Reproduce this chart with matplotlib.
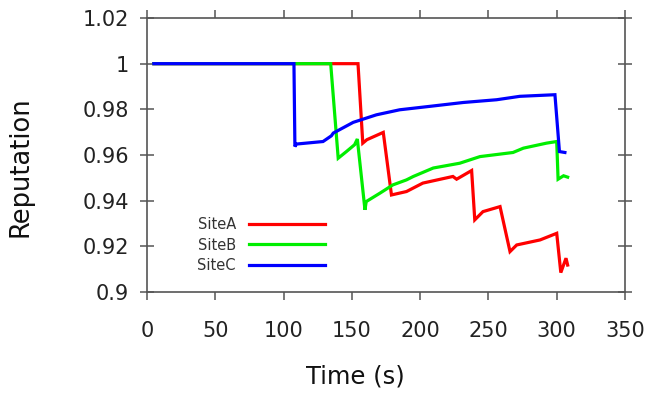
import matplotlib
matplotlib.use("Agg")
import matplotlib.pyplot as plt
from matplotlib.ticker import FuncFormatter

plt.rcParams['font.family'] = ['DejaVu Sans']

# Data
siteA_x = [5, 154.5, 158, 161, 173, 179, 190, 202, 224, 226.7, 237.7, 240, 246, 258.5,
           265.8, 270.7, 287.8, 300, 303, 306.8, 308]
siteA_y = [1, 1, 0.9652, 0.9667, 0.9699, 0.9425, 0.9440, 0.9477, 0.9506, 0.9494, 0.9532,
           0.9316, 0.9352, 0.9374, 0.9177, 0.9206, 0.9228, 0.9257, 0.9085, 0.9148, 0.9118]

siteB_x = [5, 134.5, 140, 146, 152, 154, 159.6, 160.5, 170.6, 180, 190, 195, 209.6, 229,
           243.8, 268, 275.6, 292.6, 300, 301, 305, 308]
siteB_y = [1, 1, 0.9586, 0.9615, 0.9645, 0.9670, 0.9360, 0.9396, 0.9433, 0.9469, 0.9491,
           0.9506, 0.9543, 0.9564, 0.9593, 0.9611, 0.9630, 0.9652, 0.9659, 0.9494, 0.9509,
           0.9503]

siteC_x = [5, 107.6, 108.3, 109.5, 128.9, 135, 136.4, 151, 168, 185, 207, 231.6, 256, 273,
           298.7, 302, 306]
siteC_y = [1, 1, 0.9637, 0.9648, 0.9659, 0.9684, 0.9696, 0.9743, 0.9776, 0.9798, 0.9813,
           0.9830, 0.9842, 0.9857, 0.9864, 0.9615, 0.9611]

series_names = ["SiteA", "SiteB", "SiteC"]
series_colors = ["#ff0000", "#00ee00", "#0000ff"]

x_ticks = [0, 50, 100, 150, 200, 250, 300, 350]
y_ticks = [0.9, 0.92, 0.94, 0.96, 0.98, 1.0, 1.02]

fig = plt.figure(figsize=(6.5, 3.98), dpi=100)
ax = fig.add_axes([147/650, 1 - 292/398, 478/650, 274/398])

for xs, ys, name, col in zip([siteA_x, siteB_x, siteC_x], [siteA_y, siteB_y, siteC_y],
                             series_names, series_colors):
    ax.plot(xs, ys, color=col, lw=2.3, label=name, solid_joinstyle='miter')

ax.set_xlim(0, 350)
ax.set_ylim(0.9, 1.02)
ax.set_xticks(x_ticks)
ax.set_yticks(y_ticks)
ax.yaxis.set_major_formatter(FuncFormatter(lambda v, p: '{:g}'.format(round(v, 4))))

spine_col = '#555555'
for s in ax.spines.values():
    s.set_color(spine_col)
    s.set_linewidth(1.2)

ax.tick_params(axis='x', which='both', direction='out', length=6, width=1.1,
               color=spine_col, labelsize=15, pad=15, top=True, labelcolor='#222222')
ax.tick_params(axis='y', which='both', direction='inout', length=10, width=1.1,
               color=spine_col, labelsize=15, pad=8, labelcolor='#222222')
ax.tick_params(axis='y', right=True)

ax.set_xlabel("Time (s)", fontsize=17.5, color='#111111')
ax.set_ylabel("Reputation", fontsize=18.5, color='#111111')
ax.xaxis.set_label_coords(0.435, -0.265)
ax.yaxis.set_label_coords(-0.238, 0.456)

leg = ax.legend(loc='center', bbox_to_anchor=(0.2385, 0.1715), frameon=False,
                markerfirst=False, fontsize=10.5, handlelength=5.2, handletextpad=0.9,
                labelspacing=0.4, borderpad=0)
for t in leg.get_texts():
    t.set_color('#333333')

fig.savefig("out.png", dpi=100)
